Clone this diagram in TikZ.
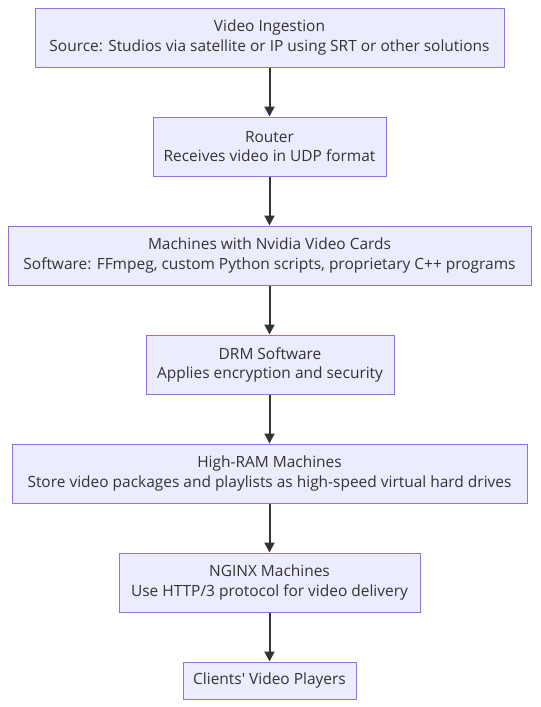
\documentclass[tikz,border=0pt]{standalone}
\usepackage{fontspec}
\setmainfont{Open Sans}
\usetikzlibrary{arrows.meta}
\definecolor{boxfill}{RGB}{236,236,255}
\definecolor{boxline}{RGB}{147,112,219}
\definecolor{flowtext}{RGB}{51,51,51}
\tikzset{every picture/.style={line width=0.75pt}}
\tikzset{
  stage/.style={draw=boxline, fill=boxfill, text=flowtext, align=center, minimum height=44.25pt, inner sep=0pt, font=\fontsize{11.6}{14.3}\selectfont},
  flow/.style={draw=flowtext, line width=1.5pt, -{Triangle[length=7.5pt,width=7.5pt]}}
}
\begin{document}
\begin{tikzpicture}[x=0.75pt,y=0.75pt,yscale=-1,xscale=1]
\useasboundingbox (0,0) rectangle (540,707);

% Stages
\node [stage, minimum width=351.75pt] (ingest) at (269.5,37.5) {Video Ingestion\\Source: Studios via satellite or IP using SRT or other solutions};
\node [stage, minimum width=174.75pt] (router) at (269.5,146.5) {Router\\Receives video in UDP format};
\node [stage, minimum width=392.25pt] (gpu) at (269.5,255.5) {Machines with Nvidia Video Cards\\Software: FFmpeg, custom Python scripts, proprietary C++ programs};
\node [stage, minimum width=186pt] (drm) at (270,364.5) {DRM Software\\Applies encryption and security};
\node [stage, minimum width=386.25pt] (ram) at (269.5,473.5) {High-RAM Machines\\Store video packages and playlists as high-speed virtual hard drives};
\node [stage, minimum width=225.75pt] (nginx) at (269.5,582.5) {NGINX Machines\\Use HTTP/3 protocol for video delivery};
\node [stage, minimum width=129.75pt, minimum height=27.75pt] (players) at (269.5,680.5) {Clients\textquotesingle\ Video Players};

% Arrows
\draw [flow] (ingest) -- (router);
\draw [flow] (router) -- (gpu);
\draw [flow] (gpu) -- (drm.north -| gpu);
\draw [flow] (drm.south -| gpu) -- (ram);
\draw [flow] (ram) -- (nginx);
\draw [flow] (nginx) -- (players);

\end{tikzpicture}
\end{document}
